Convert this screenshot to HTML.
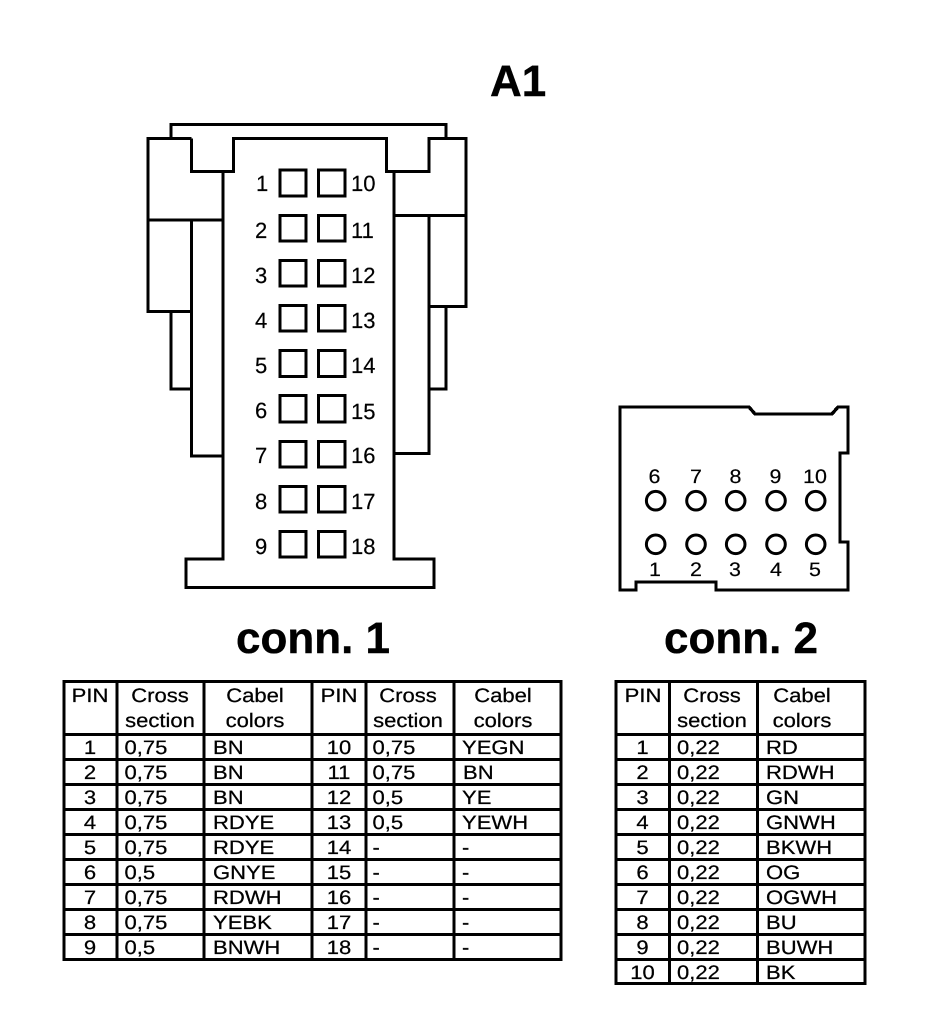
<!DOCTYPE html>
<html><head><meta charset="utf-8"><style>
html,body{margin:0;padding:0;background:#fff}
svg{display:block}
text{font-family:"Liberation Sans",Arial,sans-serif;fill:#000;text-rendering:geometricPrecision}
.t{font-size:19.5px;stroke:#000;stroke-width:.25;transform-box:fill-box;transform-origin:0 50%;transform:scaleX(1.13)}
.m{text-anchor:middle;transform-origin:50% 50%}
.p{font-size:22px;stroke:#000;stroke-width:.2}
.q{font-size:19.5px;text-anchor:middle;stroke:#000;stroke-width:.2;transform-box:fill-box;transform-origin:50% 50%;transform:scaleX(1.1)}
.b{font-weight:bold;font-size:44px;stroke:#000;stroke-width:.4}
</style></head><body>
<svg width="928" height="1028" viewBox="0 0 928 1028" xmlns="http://www.w3.org/2000/svg">
<rect width="928" height="1028" fill="#fff"/>
<text class="b" x="490" y="96">A1</text>
<text class="b" x="236" y="653">conn. 1</text>
<text class="b" x="664" y="653">conn. 2</text>
<g fill="none" stroke="#000" stroke-width="3.4" stroke-linejoin="miter" shape-rendering="crispEdges">
<path d="M171 138V124.5H446V138"/>
<path d="M191.5 138.5H148V311.5H191.5M171 311.5V389H191.5M191.5 138.5V171.5H233.5V138.5H386.5V171.5H429V138.5H466V306.5H429M446 306.5V389H429M191.5 220V456H223V559H186V587.5H434V559H394V453.5H429V215"/>
<path stroke-width="2.6" d="M148 220H223M223 171.5V456M394 171.5V453.5M394 215.500H466"/>
<g>
<rect x="280" y="170" width="26" height="26"/><rect x="318.500" y="170" width="26.500" height="26"/>
<rect x="280" y="215.500" width="26" height="25.500"/><rect x="318.500" y="215.500" width="26.500" height="25.500"/>
<rect x="280" y="260.500" width="26" height="25.500"/><rect x="318.500" y="260.500" width="26.500" height="25.500"/>
<rect x="280" y="305.500" width="26" height="25.500"/><rect x="318.500" y="305.500" width="26.500" height="25.500"/>
<rect x="280" y="350.500" width="26" height="26"/><rect x="318.500" y="350.500" width="26.500" height="26"/>
<rect x="280" y="395.500" width="26" height="26.500"/><rect x="318.500" y="395.500" width="26.500" height="26.500"/>
<rect x="280" y="441.500" width="26" height="25.500"/><rect x="318.500" y="441.500" width="26.500" height="25.500"/>
<rect x="280" y="486.500" width="26" height="25.500"/><rect x="318.500" y="486.500" width="26.500" height="25.500"/>
<rect x="280" y="531.500" width="26" height="25.500"/><rect x="318.500" y="531.500" width="26.500" height="25.500"/>
</g>
<path d="M620 407H749L755 414H832L838 407H848V453H840V542H848V590H716V582H636V590H620Z"/>
</g>
<g fill="none" stroke="#000" stroke-width="3">
<circle cx="655.700" cy="500.700" r="9.300"/><circle cx="696" cy="500.700" r="9.300"/><circle cx="735.700" cy="500.700" r="9.300"/><circle cx="776" cy="500.700" r="9.300"/><circle cx="815.700" cy="500.700" r="9.300"/>
<circle cx="655.700" cy="544.300" r="9.300"/><circle cx="696" cy="544.300" r="9.300"/><circle cx="735.700" cy="544.300" r="9.300"/><circle cx="776" cy="544.300" r="9.300"/><circle cx="815.700" cy="544.300" r="9.300"/>
</g>
<g>
<text class="p" x="256" y="191">1</text><text class="p" x="255" y="238">2</text><text class="p" x="255" y="283">3</text><text class="p" x="255" y="328">4</text><text class="p" x="255" y="373">5</text><text class="p" x="255" y="418">6</text><text class="p" x="255" y="463">7</text><text class="p" x="255" y="509">8</text><text class="p" x="255" y="554">9</text>
<text class="p" x="351" y="191">10</text><text class="p" x="351" y="238">11</text><text class="p" x="351" y="283">12</text><text class="p" x="351" y="328">13</text><text class="p" x="351" y="373">14</text><text class="p" x="351" y="419">15</text><text class="p" x="351" y="463">16</text><text class="p" x="351" y="509">17</text><text class="p" x="351" y="554">18</text>
</g>
<g>
<text class="q" x="654.500" y="483">6</text><text class="q" x="696" y="483">7</text><text class="q" x="735.500" y="483">8</text><text class="q" x="775.500" y="483">9</text><text class="q" x="815" y="483">10</text>
<text class="q" x="655" y="576">1</text><text class="q" x="696" y="576">2</text><text class="q" x="735" y="576">3</text><text class="q" x="776" y="576">4</text><text class="q" x="815" y="576">5</text>
</g>
<g fill="none" stroke="#000" stroke-width="3.4" shape-rendering="crispEdges">
<path d="M64 681.500H561V959.500H64Z M117 681.500V959.500 M204 681.500V959.500 M312 681.500V959.500 M366 681.500V959.500 M454 681.500V959.500"/>
<path d="M64 734.500H561M64 759.500H561M64 784.500H561M64 809.500H561M64 834.500H561M64 859.500H561M64 884.500H561M64 909.500H561M64 934.500H561"/>
<path d="M616 681.500H865V983.500H616Z M669.500 681.500V983.500 M757.500 681.500V983.500"/>
<path d="M616 734.500H865M616 759.500H865M616 784.500H865M616 809.500H865M616 834.500H865M616 859.500H865M616 884.500H865M616 909.500H865M616 934.500H865M616 959.500H865"/>
</g>
<g>
<text class="t m" x="90" y="702">PIN</text><text class="t m" x="160" y="702">Cross</text><text class="t m" x="160" y="727">section</text><text class="t m" x="255" y="702">Cabel</text><text class="t m" x="255" y="727">colors</text>
<text class="t m" x="339" y="702">PIN</text><text class="t m" x="408" y="702">Cross</text><text class="t m" x="408" y="727">section</text><text class="t m" x="503" y="702">Cabel</text><text class="t m" x="503" y="727">colors</text>
<text class="t m" x="643" y="702">PIN</text><text class="t m" x="712" y="702">Cross</text><text class="t m" x="712" y="727">section</text><text class="t m" x="802" y="702">Cabel</text><text class="t m" x="802" y="727">colors</text>

<text class="t m" x="90" y="754">1</text><text class="t" x="124.500" y="754">0,75</text><text class="t" x="213" y="754">BN</text><text class="t m" x="339" y="754">10</text><text class="t" x="372.500" y="754">0,75</text><text class="t" x="462" y="754">YEGN</text>
<text class="t m" x="90" y="779">2</text><text class="t" x="124.500" y="779">0,75</text><text class="t" x="213" y="779">BN</text><text class="t m" x="339" y="779">11</text><text class="t" x="372.500" y="779">0,75</text><text class="t" x="463" y="779">BN</text>
<text class="t m" x="90" y="804">3</text><text class="t" x="124.500" y="804">0,75</text><text class="t" x="213" y="804">BN</text><text class="t m" x="339" y="804">12</text><text class="t" x="372.500" y="804">0,5</text><text class="t" x="462" y="804">YE</text>
<text class="t m" x="90" y="829">4</text><text class="t" x="124.500" y="829">0,75</text><text class="t" x="213" y="829">RDYE</text><text class="t m" x="339" y="829">13</text><text class="t" x="372.500" y="829">0,5</text><text class="t" x="462" y="829">YEWH</text>
<text class="t m" x="90" y="854">5</text><text class="t" x="124.500" y="854">0,75</text><text class="t" x="213" y="854">RDYE</text><text class="t m" x="339" y="854">14</text><text class="t" x="372.500" y="854">-</text><text class="t" x="462" y="854">-</text>
<text class="t m" x="90" y="879">6</text><text class="t" x="124.500" y="879">0,5</text><text class="t" x="213" y="879">GNYE</text><text class="t m" x="339" y="879">15</text><text class="t" x="372.500" y="879">-</text><text class="t" x="462" y="879">-</text>
<text class="t m" x="90" y="904">7</text><text class="t" x="124.500" y="904">0,75</text><text class="t" x="213" y="904">RDWH</text><text class="t m" x="339" y="904">16</text><text class="t" x="372.500" y="904">-</text><text class="t" x="462" y="904">-</text>
<text class="t m" x="90" y="929">8</text><text class="t" x="124.500" y="929">0,75</text><text class="t" x="213" y="929">YEBK</text><text class="t m" x="339" y="929">17</text><text class="t" x="372.500" y="929">-</text><text class="t" x="462" y="929">-</text>
<text class="t m" x="90" y="954">9</text><text class="t" x="124.500" y="954">0,5</text><text class="t" x="213" y="954">BNWH</text><text class="t m" x="339" y="954">18</text><text class="t" x="372.500" y="954">-</text><text class="t" x="462" y="954">-</text>

<text class="t m" x="642.500" y="754">1</text><text class="t" x="677" y="754">0,22</text><text class="t" x="766" y="754">RD</text>
<text class="t m" x="642.500" y="779">2</text><text class="t" x="677" y="779">0,22</text><text class="t" x="766" y="779">RDWH</text>
<text class="t m" x="642.500" y="804">3</text><text class="t" x="677" y="804">0,22</text><text class="t" x="766" y="804">GN</text>
<text class="t m" x="642.500" y="829">4</text><text class="t" x="677" y="829">0,22</text><text class="t" x="766" y="829">GNWH</text>
<text class="t m" x="642.500" y="854">5</text><text class="t" x="677" y="854">0,22</text><text class="t" x="766" y="854">BKWH</text>
<text class="t m" x="642.500" y="879">6</text><text class="t" x="677" y="879">0,22</text><text class="t" x="766" y="879">OG</text>
<text class="t m" x="642.500" y="904">7</text><text class="t" x="677" y="904">0,22</text><text class="t" x="766" y="904">OGWH</text>
<text class="t m" x="642.500" y="929">8</text><text class="t" x="677" y="929">0,22</text><text class="t" x="766" y="929">BU</text>
<text class="t m" x="642.500" y="954">9</text><text class="t" x="677" y="954">0,22</text><text class="t" x="766" y="954">BUWH</text>
<text class="t m" x="642.500" y="979">10</text><text class="t" x="677" y="979">0,22</text><text class="t" x="766" y="979">BK</text>
</g>
</svg>
</body></html>
